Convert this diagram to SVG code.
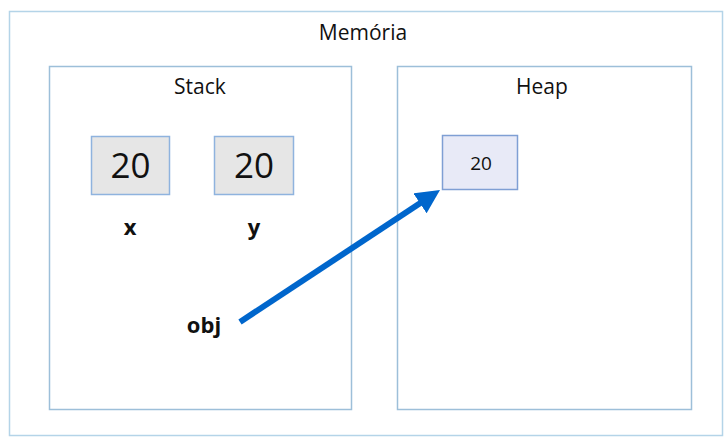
<svg xmlns="http://www.w3.org/2000/svg" width="728" height="437" viewBox="0 0 728 437">
<style>
.frame{fill:#fff;stroke:#9DBFD9;stroke-width:1.5}
.cell{fill:#E6E6E6;stroke:#8FB3DE;stroke-width:1.5}
.hcell{fill:#E8EAF7;stroke:#7F9FD4;stroke-width:1.5}
text{font-family:"Open Sans","Liberation Sans",sans-serif;fill:#111;text-anchor:middle}
.t{font-size:21px}
.big{font-size:35px}
.b{font-weight:bold;font-size:22px}
</style>
<defs>
<marker id="ah" markerWidth="4" markerHeight="4" refX="2.2" refY="2" orient="auto" markerUnits="strokeWidth">
<path d="M0,0 L4,2 L0,4 z" fill="#0066CC"/>
</marker>
</defs>
<g id="memoria">
<rect class="frame" x="9.5" y="11.5" width="713" height="424" style="stroke:#B4D4E8"/>
<text class="t" x="363" y="40">Memória</text>
</g>
<g id="stack">
<rect class="frame" x="49.5" y="66.5" width="302" height="343"/>
<text class="t" x="200" y="94">Stack</text>
</g>
<g id="heap">
<rect class="frame" x="397.5" y="66.5" width="294" height="343"/>
<text class="t" x="542" y="94">Heap</text>
</g>
<g id="x">
<rect class="cell" x="91.5" y="136.5" width="78" height="58"/>
<text class="big" x="130.5" y="178">20</text>
<text class="b" x="130" y="235">x</text>
</g>
<g id="y">
<rect class="cell" x="214.5" y="136.5" width="79" height="58"/>
<text class="big" x="254" y="178">20</text>
<text class="b" x="254" y="235">y</text>
</g>
<g id="obj">
<text class="b" x="204" y="333">obj</text>
</g>
<g id="heapobj">
<rect class="hcell" x="442.5" y="135.5" width="75" height="54"/>
<text x="481" y="170" style="font-size:19px">20</text>
</g>
<g id="connectors">
<line x1="240" y1="322" x2="431" y2="196" stroke="#0066CC" stroke-width="6" marker-end="url(#ah)"/>
</g>
</svg>
